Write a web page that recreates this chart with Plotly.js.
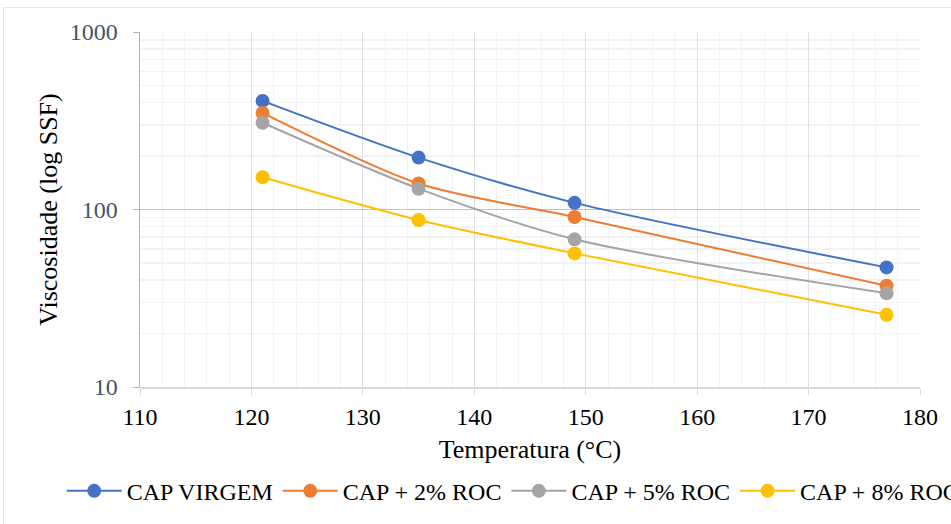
<!DOCTYPE html>
<html>
<head>
<meta charset="utf-8">
<script src="https://cdn.plot.ly/plotly-3.0.1.min.js"></script>
<style>
html,body{margin:0;padding:0;background:#fff;overflow:hidden;}
#wrap{position:absolute;left:0;top:0;width:951px;height:524px;overflow:hidden;}
#frame{position:absolute;left:3px;top:7px;width:960px;height:530px;border:1px solid #e6e6e6;box-sizing:border-box;}
#chart{position:absolute;left:0;top:0;width:1000px;height:524px;}
</style>
</head>
<body>
<div id="wrap">
<div id="frame"></div>
<div id="chart"></div>
</div>
<script>
var temperatures = [121, 135, 149, 177];
var seriesNames = ["CAP VIRGEM", "CAP + 2% ROC", "CAP + 5% ROC", "CAP + 8% ROC"];
var capVirgem = [409, 196, 109, 47.2];
var cap2 = [350, 140, 90.7, 37.2];
var cap5 = [308, 131, 67.9, 33.7];
var cap8 = [152, 87.3, 56.6, 25.5];
var seriesColors = ["#4472C4", "#ED7D31", "#A5A5A5", "#FFC000"];
var allSeries = [capVirgem, cap2, cap5, cap8];

var font = "Liberation Serif";

var traces = allSeries.map(function(vals, i){
  return {
    x: temperatures,
    y: vals,
    name: seriesNames[i],
    type: 'scatter',
    mode: 'lines+markers',
    line: {color: seriesColors[i], width: 2, shape: 'spline', smoothing: 0.8},
    marker: {color: seriesColors[i], size: 14, line: {width: 0}}
  };
});

var layout = {
  width: 1000, height: 524,
  margin: {l: 140, r: 80, t: 32, b: 136},
  paper_bgcolor: 'rgba(0,0,0,0)',
  plot_bgcolor: '#fff',
  font: {family: font, color: '#000', size: 24},
  showlegend: true,
  xaxis: {
    range: [110, 180],
    dtick: 10,
    tick0: 110,
    showgrid: true,
    gridcolor: '#dde2ea',
    gridwidth: 1,
    minor: {dtick: 2, showgrid: true, gridcolor: '#f1f3f6', ticks: ''},
    showline: true,
    linecolor: '#d6dbe3',
    linewidth: 1.5,
    ticks: 'outside',
    ticklen: 6,
    tickcolor: '#d6dbe3',
    ticklabelstandoff: 2,
    tickfont: {family: font, size: 24, color: '#000'},
    zeroline: false,
    title: {text: 'Temperatura (°C)', font: {family: font, size: 26, color: '#000'}, standoff: 10}
  },
  yaxis: {
    type: 'log',
    range: [1, 3],
    dtick: 1,
    showgrid: true,
    gridcolor: '#c3c3c3',
    gridwidth: 1.5,
    minor: {dtick: 'D1', showgrid: true, gridcolor: '#f1f3f6', ticks: ''},
    showline: true,
    linecolor: '#aab5c8',
    linewidth: 1.5,
    ticks: 'outside',
    ticklen: 6,
    tickcolor: '#aab5c8',
    ticklabelstandoff: 10,
    tickfont: {family: font, size: 24, color: '#44546A'},
    zeroline: false,
    title: {text: 'Viscosidade (log SSF)', font: {family: font, size: 26, color: '#000'}, standoff: 4}
  },
  legend: {
    orientation: 'h',
    x: -0.1004,
    xanchor: 'left',
    y: -0.29,
    yanchor: 'middle',
    font: {family: font, size: 24, color: '#000'},
    itemwidth: 55,
    bgcolor: 'rgba(0,0,0,0)',
    tracegroupgap: 0
  }
};

Plotly.newPlot('chart', traces, layout, {displayModeBar: false, staticPlot: true});
</script>
</body>
</html>
